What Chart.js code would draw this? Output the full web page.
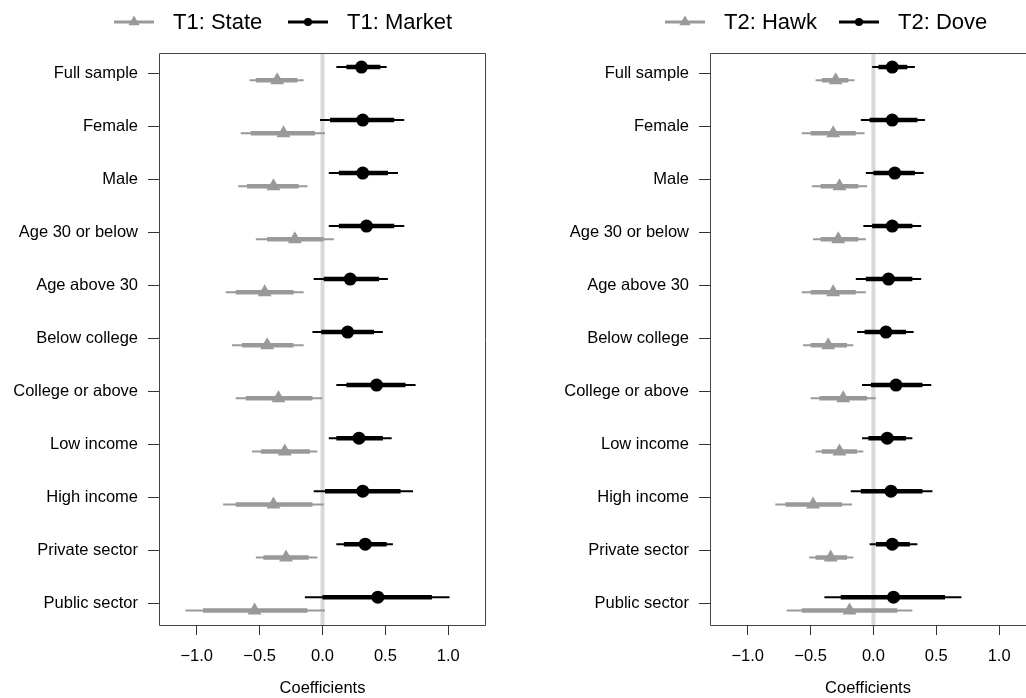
<!DOCTYPE html>
<html>
<head>
<meta charset="utf-8">
<script src="https://cdn.jsdelivr.net/npm/chart.js@4/dist/chart.umd.min.js"></script>
<style>
  body { margin: 0; width: 1026px; height: 698px; overflow: hidden; background: #fff; position: relative; }
  canvas { position: absolute; top: 0; }
  #leftCanvas { left: 0; }
  #rightCanvas { left: 513px; }
</style>
</head>
<body>
<canvas id="leftCanvas" width="513" height="698"></canvas>
<canvas id="rightCanvas" width="513" height="698"></canvas>
<script>
const categories = ["Full sample", "Female", "Male", "Age 30 or below", "Age above 30",
    "Below college", "College or above", "Low income", "High income", "Private sector", "Public sector"];
const xTicks = [-1.0, -0.5, 0.0, 0.5, 1.0];

// T1: State (grey triangles)
const t1StateEst  = [-0.36, -0.31, -0.39, -0.22, -0.46, -0.44, -0.35, -0.30, -0.39, -0.29, -0.54];
const t1StateLo95 = [-0.58, -0.65, -0.67, -0.53, -0.77, -0.72, -0.69, -0.56, -0.79, -0.53, -1.09];
const t1StateHi95 = [-0.15,  0.02, -0.12,  0.09, -0.15, -0.15,  0.00, -0.04,  0.01, -0.04,  0.02];
const t1StateLo90 = [-0.53, -0.57, -0.60, -0.44, -0.69, -0.64, -0.61, -0.49, -0.69, -0.47, -0.95];
const t1StateHi90 = [-0.20, -0.06, -0.19,  0.01, -0.23, -0.23, -0.08, -0.10, -0.08, -0.11, -0.12];

// T1: Market (black circles)
const t1MarketEst  = [0.31, 0.32, 0.32, 0.35, 0.22, 0.20, 0.43, 0.29, 0.32, 0.34, 0.44];
const t1MarketLo95 = [0.11, -0.02, 0.05, 0.05, -0.07, -0.08, 0.11, 0.05, -0.07, 0.11, -0.14];
const t1MarketHi95 = [0.51, 0.65, 0.60, 0.65, 0.52, 0.48, 0.74, 0.55, 0.72, 0.56, 1.01];
const t1MarketLo90 = [0.19, 0.06, 0.13, 0.13, 0.01, -0.01, 0.19, 0.11, 0.02, 0.17, 0.00];
const t1MarketHi90 = [0.46, 0.57, 0.52, 0.57, 0.45, 0.41, 0.66, 0.48, 0.62, 0.51, 0.87];

// T2: Hawk (grey triangles)
const t2HawkEst  = [-0.30, -0.32, -0.27, -0.28, -0.32, -0.36, -0.24, -0.27, -0.48, -0.34, -0.19];
const t2HawkLo95 = [-0.46, -0.57, -0.49, -0.48, -0.57, -0.56, -0.50, -0.46, -0.78, -0.51, -0.69];
const t2HawkHi95 = [-0.15, -0.07, -0.05, -0.06, -0.06, -0.16,  0.02, -0.08, -0.17, -0.16,  0.31];
const t2HawkLo90 = [-0.41, -0.50, -0.42, -0.42, -0.50, -0.50, -0.43, -0.41, -0.70, -0.46, -0.57];
const t2HawkHi90 = [-0.20, -0.14, -0.12, -0.12, -0.14, -0.21, -0.05, -0.13, -0.25, -0.21,  0.19];

// T2: Dove (black circles)
const t2DoveEst  = [0.15, 0.15, 0.17, 0.15, 0.12, 0.10, 0.18, 0.11, 0.14, 0.15, 0.16];
const t2DoveLo95 = [-0.01, -0.10, -0.06, -0.08, -0.14, -0.13, -0.09, -0.09, -0.18, -0.03, -0.39];
const t2DoveHi95 = [0.33, 0.41, 0.40, 0.38, 0.38, 0.32, 0.46, 0.31, 0.47, 0.35, 0.70];
const t2DoveLo90 = [0.04, -0.03, 0.00, -0.01, -0.06, -0.07, -0.02, -0.04, -0.10, 0.02, -0.26];
const t2DoveHi90 = [0.27, 0.35, 0.33, 0.31, 0.31, 0.26, 0.39, 0.26, 0.39, 0.29, 0.57];

Chart.defaults.font.family = '"Liberation Sans", Arial, Helvetica, sans-serif';

const GREY = '#999999';
const OFF = 0.125; // vertical shift of the two series around each category

function fmt(v) {
    let s = Math.abs(v).toFixed(1);
    return v < 0 ? '\u2212' + s : s;
}

// p = {canvasId, yWidth, padRight, xMax, rightEdge, legendX}
function makePanel(p, series) {
    const ciPlugin = {
        id: 'ci',
        beforeDatasetsDraw(chart) {
            const ctx = chart.ctx, xs = chart.scales.x, ys = chart.scales.y, a = chart.chartArea;
            ctx.save();
            // zero line
            ctx.strokeStyle = '#d9d9d9';
            ctx.lineWidth = 4;
            ctx.beginPath();
            ctx.moveTo(xs.getPixelForValue(0), a.top);
            ctx.lineTo(xs.getPixelForValue(0), a.bottom);
            ctx.stroke();
            ctx.lineCap = 'butt';
            series.forEach(s => {
                ctx.strokeStyle = s.color;
                for (let i = 0; i < s.est.length; i++) {
                    let y = ys.getPixelForValue(i + s.offset);
                    ctx.lineWidth = 2;
                    ctx.beginPath();
                    ctx.moveTo(xs.getPixelForValue(s.lo95[i]), y);
                    ctx.lineTo(xs.getPixelForValue(s.hi95[i]), y);
                    ctx.stroke();
                    ctx.lineWidth = 4.5;
                    ctx.beginPath();
                    ctx.moveTo(xs.getPixelForValue(s.lo90[i]), y);
                    ctx.lineTo(xs.getPixelForValue(s.hi90[i]), y);
                    ctx.stroke();
                }
            });
            ctx.restore();
        },
        afterDraw(chart) {
            const ctx = chart.ctx, a = chart.chartArea;
            const l = Math.round(a.left) + 0.5, t = Math.round(a.top) + 0.5;
            const r = Math.round(a.right) - 0.5, b = Math.round(a.bottom) + 0.5;
            ctx.save();
            ctx.strokeStyle = '#444';
            ctx.lineWidth = 1;
            ctx.beginPath();
            if (p.rightEdge) {
                ctx.moveTo(r, t); ctx.lineTo(l, t); ctx.lineTo(l, b); ctx.lineTo(r, b); ctx.closePath();
            } else {
                // box runs past the picture's right edge
                ctx.moveTo(a.right, t); ctx.lineTo(l, t); ctx.lineTo(l, b); ctx.lineTo(a.right, b);
            }
            ctx.stroke();
            // legend
            ctx.font = '22px ' + Chart.defaults.font.family;
            ctx.textBaseline = 'middle';
            ctx.textAlign = 'left';
            series.forEach((s, k) => {
                let x0 = p.legendX[k];
                let y = 22;
                ctx.strokeStyle = s.color;
                ctx.fillStyle = s.color;
                ctx.lineWidth = 3;
                ctx.beginPath();
                ctx.moveTo(x0, y);
                ctx.lineTo(x0 + 40, y);
                ctx.stroke();
                let cx = x0 + 20;
                ctx.beginPath();
                if (s.style === 'triangle') {
                    let rr = 6.5;
                    ctx.moveTo(cx, y - rr);
                    ctx.lineTo(cx + rr * 0.866, y + rr * 0.5);
                    ctx.lineTo(cx - rr * 0.866, y + rr * 0.5);
                    ctx.closePath();
                } else {
                    ctx.arc(cx, y, 4, 0, Math.PI * 2);
                }
                ctx.fill();
                ctx.fillStyle = '#000';
                ctx.fillText(s.name, x0 + 59, y + 1);
            });
            ctx.restore();
        }
    };

    return new Chart(document.getElementById(p.canvasId), {
        type: 'scatter',
        data: {
            datasets: series.map(s => ({
                label: s.name,
                data: s.est.map((v, i) => ({ x: v, y: i + s.offset })),
                pointStyle: s.style,
                pointRadius: s.radius,
                backgroundColor: s.color,
                borderColor: s.color,
                borderWidth: 0
            }))
        },
        options: {
            responsive: false,
            animation: false,
            layout: { autoPadding: false, padding: { top: 53, right: p.padRight, left: 0, bottom: 0 } },
            plugins: { legend: { display: false }, tooltip: { enabled: false } },
            scales: {
                x: {
                    type: 'linear', min: -1.3, max: p.xMax,
                    afterBuildTicks: sc => { sc.ticks = xTicks.map(v => ({ value: v })); },
                    afterFit: sc => { sc.height = 73; sc.paddingLeft = 0; sc.paddingRight = 0; },
                    border: { display: false },
                    grid: { drawOnChartArea: false, drawTicks: true, tickLength: 10, color: '#333' },
                    ticks: { callback: v => fmt(v), font: { size: 16.5 }, color: '#000', padding: 12, maxRotation: 0, autoSkip: false },
                    title: { display: true, text: 'Coefficients', font: { size: 16.5 }, color: '#000', padding: { top: 0, bottom: 0 } }
                },
                y: {
                    type: 'linear', reverse: true, min: -0.39, max: 10.4,
                    afterBuildTicks: sc => { sc.ticks = categories.map((c, i) => ({ value: i })); },
                    afterFit: sc => { sc.width = p.yWidth; sc.paddingTop = 0; sc.paddingBottom = 0; },
                    border: { display: false },
                    grid: { drawOnChartArea: false, drawTicks: true, tickLength: 11, color: '#333' },
                    ticks: { callback: v => categories[v], font: { size: 16.5 }, color: '#000', padding: 10, autoSkip: false }
                }
            }
        },
        plugins: [ciPlugin]
    });
}

makePanel({ canvasId: 'leftCanvas', yWidth: 159, padRight: 27, xMax: 1.3, rightEdge: true, legendX: [114, 288] }, [
    { name: 'T1: State', color: GREY, style: 'triangle', radius: 8, offset: OFF,
      est: t1StateEst, lo95: t1StateLo95, hi95: t1StateHi95, lo90: t1StateLo90, hi90: t1StateHi90 },
    { name: 'T1: Market', color: '#000', style: 'circle', radius: 6.5, offset: -OFF,
      est: t1MarketEst, lo95: t1MarketLo95, hi95: t1MarketHi95, lo90: t1MarketLo90, hi90: t1MarketHi90 }
]);

// right panel: plot box is cut off by the right edge of the picture
makePanel({ canvasId: 'rightCanvas', yWidth: 197, padRight: 0, xMax: 1.214, rightEdge: false, legendX: [152, 326] }, [
    { name: 'T2: Hawk', color: GREY, style: 'triangle', radius: 8, offset: OFF,
      est: t2HawkEst, lo95: t2HawkLo95, hi95: t2HawkHi95, lo90: t2HawkLo90, hi90: t2HawkHi90 },
    { name: 'T2: Dove', color: '#000', style: 'circle', radius: 6.5, offset: -OFF,
      est: t2DoveEst, lo95: t2DoveLo95, hi95: t2DoveHi95, lo90: t2DoveLo90, hi90: t2DoveHi90 }
]);
</script>
</body>
</html>
